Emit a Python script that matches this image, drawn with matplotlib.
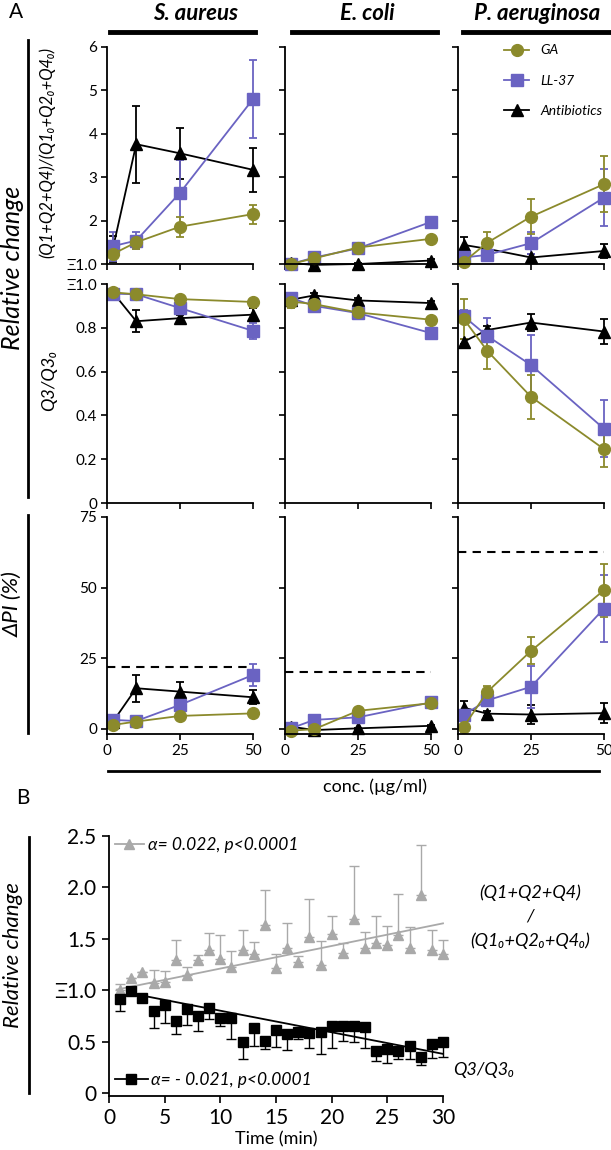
import numpy as np
import matplotlib
matplotlib.use("Agg")
import matplotlib.pyplot as plt
from matplotlib.lines import Line2D

plt.rcParams['font.family'] = ['Lato', 'DejaVu Sans']

# ---------------- data (panel A) ----------------
conc = [2, 10, 25, 50]
species = ["S. aureus", "E. coli", "P. aeruginosa"]

# (Q1+Q2+Q4)/(Q1o+Q2o+Q4o), one list per species
ratio_ga = [[1.23, 1.50, 1.86, 2.15], [1.00, 1.13, 1.38, 1.58], [1.05, 1.49, 2.09, 2.84]]
ratio_ga_err = [[0.10, 0.15, 0.23, 0.22], [0.10, 0.12, 0.04, 0.04], [0.05, 0.25, 0.40, 0.65]]
ratio_ll = [[1.41, 1.54, 2.64, 4.80], [1.00, 1.15, 1.36, 1.97], [1.15, 1.21, 1.48, 2.53]]
ratio_ll_err = [[0.33, 0.20, 0.76, 0.89], [0.05, 0.08, 0.05, 0.10], [0.10, 0.10, 0.26, 0.65]]
ratio_ab = [[1.35, 3.76, 3.55, 3.17], [1.02, 0.98, 1.00, 1.08], [1.44, 1.35, 1.15, 1.30]]
ratio_ab_err = [[0.30, 0.89, 0.58, 0.51], [0.03, 0.03, 0.03, 0.03], [0.18, 0.10, 0.07, 0.17]]

# Q3/Q3o
q3_ga = [[0.962, 0.953, 0.931, 0.918], [0.920, 0.908, 0.870, 0.837], [0.840, 0.695, 0.485, 0.246]]
q3_ga_err = [[0.01, 0.01, 0.01, 0.01], [0.03, 0.02, 0.02, 0.01], [0.09, 0.085, 0.10, 0.08]]
q3_ll = [[0.956, 0.953, 0.890, 0.786], [0.936, 0.900, 0.867, 0.776], [0.852, 0.763, 0.630, 0.339]]
q3_ll_err = [[0.01, 0.01, 0.02, 0.035], [0.02, 0.02, 0.02, 0.02], [0.03, 0.08, 0.135, 0.13]]
q3_ab = [[0.962, 0.830, 0.844, 0.860], [0.928, 0.948, 0.925, 0.913], [0.737, 0.790, 0.824, 0.783]]
q3_ab_err = [[0.01, 0.05, 0.015, 0.03], [0.01, 0.01, 0.01, 0.01], [0.01, 0.02, 0.04, 0.057]]

# delta PI (%)
pi_ga = [[1.4, 2.6, 4.6, 5.5], [-0.6, -0.1, 6.4, 9.1], [0.8, 13.1, 27.6, 49.1]]
pi_ga_err = [[0.5, 0.5, 0.5, 0.5], [1.0, 1.0, 0.5, 0.5], [2.0, 2.0, 4.8, 9.4]]
pi_ll = [[3.2, 2.8, 8.5, 19.1], [0.2, 3.2, 4.1, 9.4], [5.0, 10.1, 14.9, 42.6]]
pi_ll_err = [[1.5, 0.5, 3.5, 3.9], [0.5, 0.5, 0.5, 0.8], [1.5, 1.5, 7.4, 12.0]]
pi_ab = [[2.5, 14.4, 13.2, 11.2], [0.8, -0.4, 0.2, 1.1], [7.5, 5.4, 5.1, 5.6]]
pi_ab_err = [[1.0, 4.8, 3.5, 2.4], [0.3, 0.3, 0.3, 0.3], [2.3, 1.0, 3.5, 3.5]]
pi_thresh = [21.8, 20.2, 62.6]

# ---------------- data (panel B) ----------------
time_min = list(range(1, 31))
q124 = [1.00, 1.12, 1.18, 1.07, 1.08, 1.29, 1.15, 1.29, 1.39, 1.30,
        1.23, 1.39, 1.35, 1.63, 1.22, 1.41, 1.27, 1.52, 1.24, 1.55,
        1.36, 1.69, 1.41, 1.46, 1.44, 1.54, 1.41, 1.93, 1.39, 1.35]
q124_err = [0.06, 0.00, 0.00, 0.13, 0.11, 0.20, 0.08, 0.05, 0.17, 0.24,
            0.15, 0.20, 0.12, 0.34, 0.13, 0.24, 0.06, 0.37, 0.24, 0.17,
            0.10, 0.52, 0.16, 0.26, 0.18, 0.40, 0.20, 0.48, 0.20, 0.14]
q3 = [0.91, 0.99, 0.92, 0.80, 0.86, 0.70, 0.82, 0.75, 0.83, 0.73,
      0.73, 0.50, 0.63, 0.51, 0.61, 0.57, 0.59, 0.58, 0.59, 0.65,
      0.65, 0.65, 0.64, 0.41, 0.43, 0.41, 0.46, 0.35, 0.48, 0.50]
q3_err = [0.11, 0.00, 0.00, 0.17, 0.18, 0.13, 0.16, 0.15, 0.11, 0.08,
          0.21, 0.17, 0.17, 0.08, 0.16, 0.15, 0.07, 0.14, 0.21, 0.21,
          0.14, 0.15, 0.20, 0.10, 0.14, 0.08, 0.13, 0.08, 0.14, 0.15]
fit_q124 = (0.022, 0.99, 0.7, 30)   # slope, intercept, t start, t end
fit_q3 = (-0.021, 1.01, 2, 30)

GA_C = "#8b8a2c"
LL_C = "#6a63c2"
AB_C = "black"
GRAY = "#a9a9a9"

W, H = 611, 1150
fig = plt.figure(figsize=(W / 100, H / 100), dpi=100)


def box(left, top, width, height):
    return [left / W, 1 - (top + height) / H, width / W, height / H]


def ftext(x, y, s, **kw):
    fig.text(x / W, 1 - y / H, s, **kw)


def fline(xs, ys, **kw):
    fig.add_artist(Line2D([x / W for x in xs], [1 - y / H for y in ys], **kw))


def style(ax, size=11):
    for side in ("top", "right"):
        ax.spines[side].set_visible(False)
    for side in ("left", "bottom"):
        ax.spines[side].set_linewidth(1.3)
    ax.tick_params(direction="out", length=4, width=1.2, labelsize=size, pad=3)


def series(ax, y, err, color, marker, ms):
    c = ax.errorbar(conc, y, yerr=err, color=color, marker=marker, ms=ms,
                    lw=1.3, elinewidth=1.3, capsize=3.2, capthick=1.3)
    for art in c.get_children():
        art.set_clip_on(False)


col_left = [107, 285, 458]
col_w = 146
rows = [(47, 217), (284, 219), (517, 217)]

for j in range(3):
    # row 1 : (Q1+Q2+Q4)/(Q1o+Q2o+Q4o)
    ax = fig.add_axes(box(col_left[j], rows[0][0], col_w, rows[0][1]))
    style(ax)
    series(ax, ratio_ab[j], ratio_ab_err[j], AB_C, "^", 8.5)
    series(ax, ratio_ll[j], ratio_ll_err[j], LL_C, "s", 8)
    series(ax, ratio_ga[j], ratio_ga_err[j], GA_C, "o", 8.5)
    ax.set_xlim(0, 50)
    ax.set_ylim(1, 6)
    ax.set_xticks([0, 25, 50])
    ax.set_xticklabels([])
    ax.set_yticks([1, 2, 3, 4, 5, 6])
    if j == 0:
        ax.set_yticklabels(["Ξ1.0", "2", "3", "4", "5", "6"])
    else:
        ax.set_yticklabels([])
    if j == 2:
        handles = [Line2D([], [], color=GA_C, marker="o", ms=8.5, lw=1.3),
                   Line2D([], [], color=LL_C, marker="s", ms=8, lw=1.3),
                   Line2D([], [], color=AB_C, marker="^", ms=8.5, lw=1.3)]
        ax.legend(handles, ["GA", "LL-37", "Antibiotics"], loc="upper left",
                  bbox_to_anchor=(0.26, 1.05), frameon=False, handlelength=1.8,
                  labelspacing=1.3, handletextpad=0.8, borderaxespad=0.2,
                  prop={"style": "italic", "size": 10})

    # row 2 : Q3/Q3o
    ax = fig.add_axes(box(col_left[j], rows[1][0], col_w, rows[1][1]))
    style(ax)
    series(ax, q3_ab[j], q3_ab_err[j], AB_C, "^", 8.5)
    series(ax, q3_ll[j], q3_ll_err[j], LL_C, "s", 8)
    series(ax, q3_ga[j], q3_ga_err[j], GA_C, "o", 8.5)
    ax.set_xlim(0, 50)
    ax.set_ylim(0, 1)
    ax.set_xticks([0, 25, 50])
    ax.set_xticklabels([])
    ax.set_yticks([0, 0.2, 0.4, 0.6, 0.8, 1.0])
    if j == 0:
        ax.set_yticklabels(["0", "0.2", "0.4", "0.6", "0.8", "Ξ1.0"])
    else:
        ax.set_yticklabels([])

    # row 3 : delta PI
    ax = fig.add_axes(box(col_left[j], rows[2][0], col_w, rows[2][1]))
    style(ax)
    ax.axhline(pi_thresh[j], xmin=0, xmax=1.0, color="black", lw=1.5,
               ls=(0, (4, 3)))
    series(ax, pi_ab[j], pi_ab_err[j], AB_C, "^", 8.5)
    series(ax, pi_ll[j], pi_ll_err[j], LL_C, "s", 8)
    series(ax, pi_ga[j], pi_ga_err[j], GA_C, "o", 8.5)
    ax.set_xlim(0, 50)
    ax.set_ylim(-1.8, 75)
    ax.set_xticks([0, 25, 50])
    ax.set_yticks([0, 25, 50, 75])
    if j != 0:
        ax.set_yticklabels([])

# column titles and bars
title_x = [196, 367, 537]
bar_x = [(110, 255), (292, 437), (463, 611)]
for j in range(3):
    ftext(title_x[j], 13, species[j], ha="center", va="center", fontsize=16,
          fontweight="bold", style="italic")
    fline(bar_x[j], (32, 32), color="black", lw=3.5)

ftext(16, 12, "A", ha="center", va="center", fontsize=15)
ftext(23, 798, "B", ha="center", va="center", fontsize=15)

# panel A side labels
fline((28, 28), (40, 497), color="black", lw=2)
fline((28, 28), (515, 733), color="black", lw=2)
ftext(13, 268, "Relative change", rotation=90, ha="center", va="center",
      fontsize=18, style="italic")
ftext(47, 152, "(Q1+Q2+Q4)/(Q1₀+Q2₀+Q4₀)", rotation=90, ha="center",
      va="center", fontsize=12, style="italic")
ftext(49, 380, "Q3/Q3₀", rotation=90, ha="center", va="center", fontsize=13,
      style="italic")
ftext(13, 604, "ΔPI (%)", rotation=90, ha="center", va="center", fontsize=16,
      style="italic")

fline((108, 599), (771, 771), color="black", lw=2)
ftext(375, 787, "conc. (µg/ml)", ha="center", va="center", fontsize=13)

# ---------------- panel B ----------------
axb = fig.add_axes(box(109, 836, 334, 260))
style(axb, 15)
axb.tick_params(length=5, pad=4)
t = np.array(time_min)
axb.errorbar(t, q124, yerr=[np.zeros(len(q124)), q124_err], fmt="^", ms=7,
             color=GRAY, elinewidth=1.0, capsize=3.5, capthick=1.0,
             clip_on=False)
axb.errorbar(t, q3, yerr=[q3_err, np.zeros(len(q3))], fmt="s", ms=7,
             color="black", elinewidth=1.0, capsize=3.5, capthick=1.0,
             clip_on=False)
for (slope, icpt, t0, t1), col in ((fit_q124, GRAY), (fit_q3, "black")):
    tt = np.array([t0, t1])
    axb.plot(tt, icpt + slope * tt, color=col, lw=1.3, clip_on=False)
axb.set_xlim(0, 30)
axb.set_ylim(-0.03, 2.5)
axb.set_xticks([0, 5, 10, 15, 20, 25, 30])
axb.set_yticks([0, 0.5, 1.0, 1.5, 2.0, 2.5])
axb.set_yticklabels(["0", "0.5", "Ξ1.0", "1.5", "2.0", "2.5"])
axb.set_xlabel("Time (min)", fontsize=13, labelpad=2)

leg1 = axb.legend([Line2D([], [], color=GRAY, marker="^", ms=7, lw=1.3)],
                  ["α= 0.022, p<0.0001"], loc="upper left",
                  bbox_to_anchor=(-0.03, 1.055), frameon=False, handlelength=1.7,
                  handletextpad=0.2, prop={"style": "italic", "size": 12.5})
axb.add_artist(leg1)
axb.legend([Line2D([], [], color="black", marker="s", ms=7, lw=1.3)],
           ["α= - 0.021, p<0.0001"], loc="lower left",
           bbox_to_anchor=(-0.03, -0.03), frameon=False, handlelength=1.9,
           handletextpad=0.2, prop={"style": "italic", "size": 12.5})

ftext(530, 893, "(Q1+Q2+Q4)", ha="center", va="center", fontsize=13,
      style="italic")
ftext(530, 917, "/", ha="center", va="center", fontsize=13, style="italic")
ftext(530, 941, "(Q1₀+Q2₀+Q4₀)", ha="center", va="center", fontsize=13,
      style="italic")
ftext(453, 1070, "Q3/Q3₀", ha="left", va="center", fontsize=13,
      style="italic")

fline((29, 29), (837, 1093), color="black", lw=2)
ftext(13, 955, "Relative change", rotation=90, ha="center", va="center",
      fontsize=16, style="italic")

fig.savefig("out.png", dpi=100)
